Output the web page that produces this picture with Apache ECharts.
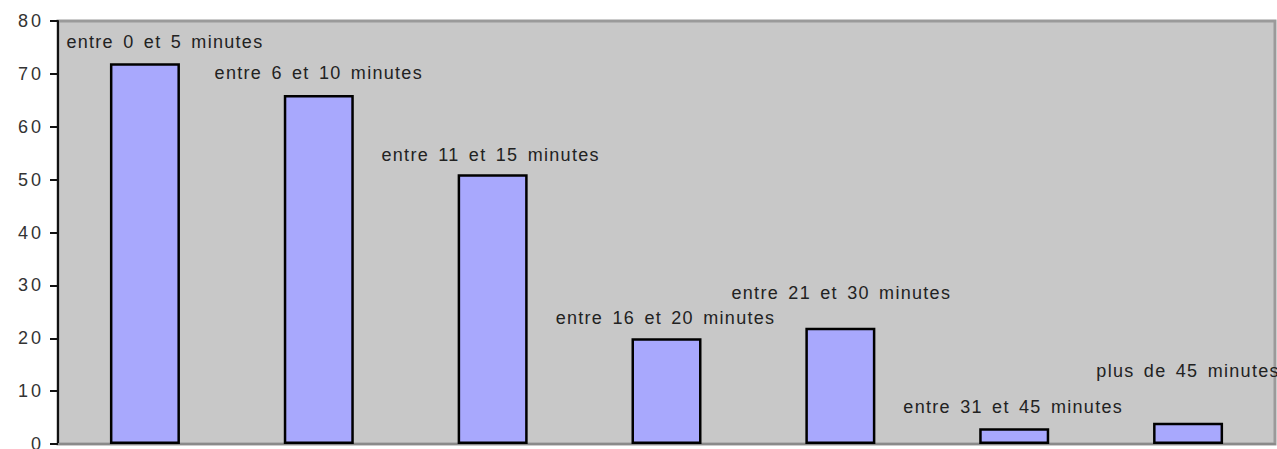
<!DOCTYPE html>
<html>
<head>
<meta charset="utf-8">
<script src="https://cdn.jsdelivr.net/npm/echarts@6/dist/echarts.min.js"></script>
<style>
  html, body { margin: 0; padding: 0; background: #fff; }
  #chart { width: 1277px; height: 449px; }
  /* the original text is loosely spaced */
  #chart svg text { letter-spacing: 1.3px; word-spacing: 3px; }
  #chart svg text[text-anchor="end"] { letter-spacing: 3px; }
</style>
</head>
<body>
<div id="chart"></div>
<script>
  const categories = [
    'entre 0 et 5 minutes',
    'entre 6 et 10 minutes',
    'entre 11 et 15 minutes',
    'entre 16 et 20 minutes',
    'entre 21 et 30 minutes',
    'entre 31 et 45 minutes',
    'plus de 45 minutes'
  ];
  const values = [72, 66, 51, 20, 22, 3, 4];
  const yTicks = [0, 10, 20, 30, 40, 50, 60, 70, 80];

  // label nudges, so the staggered labels sit like the original
  const labelShift = [[20, 0], [0, -1], [-2, 2], [-1, 1], [1, -14], [-1, 0], [0, -31]];

  const chart = echarts.init(document.getElementById('chart'), null, { renderer: 'svg' });

  chart.setOption({
    animation: false,
    grid: {
      left: 58,
      right: 2,
      top: 21,
      bottom: 5,
      outerBoundsMode: 'none',
      show: true,
      backgroundColor: '#c8c8c8',
      borderColor: '#9a9a9a',
      borderWidth: 3
    },
    xAxis: {
      type: 'category',
      data: categories,
      axisLine: { show: true, lineStyle: { color: '#8a8a8a', width: 2 } },
      axisTick: { show: false },
      axisLabel: { show: false },
      splitLine: { show: false }
    },
    yAxis: {
      type: 'value',
      min: yTicks[0],
      max: yTicks[yTicks.length - 1],
      interval: 10,
      axisLine: { show: true, lineStyle: { color: '#111', width: 2 } },
      axisTick: { show: true, length: 8, lineStyle: { color: '#111', width: 2 } },
      axisLabel: {
        margin: 14,
        color: '#333',
        fontFamily: 'Liberation Sans',
        fontSize: 18
      },
      splitLine: { show: false }
    },
    series: [
      {
        type: 'bar',
        barWidth: 70,
        data: values.map((v, i) => ({
          value: v,
          label: { offset: labelShift[i] }
        })),
        itemStyle: {
          color: '#a8a8fd',
          borderColor: '#000',
          borderWidth: 2.5
        },
        label: {
          show: true,
          position: 'top',
          distance: 12,
          formatter: p => categories[p.dataIndex],
          color: '#222',
          fontFamily: 'Liberation Sans',
          fontSize: 18,
          lineHeight: 18
        }
      }
    ]
  });
</script>
</body>
</html>
